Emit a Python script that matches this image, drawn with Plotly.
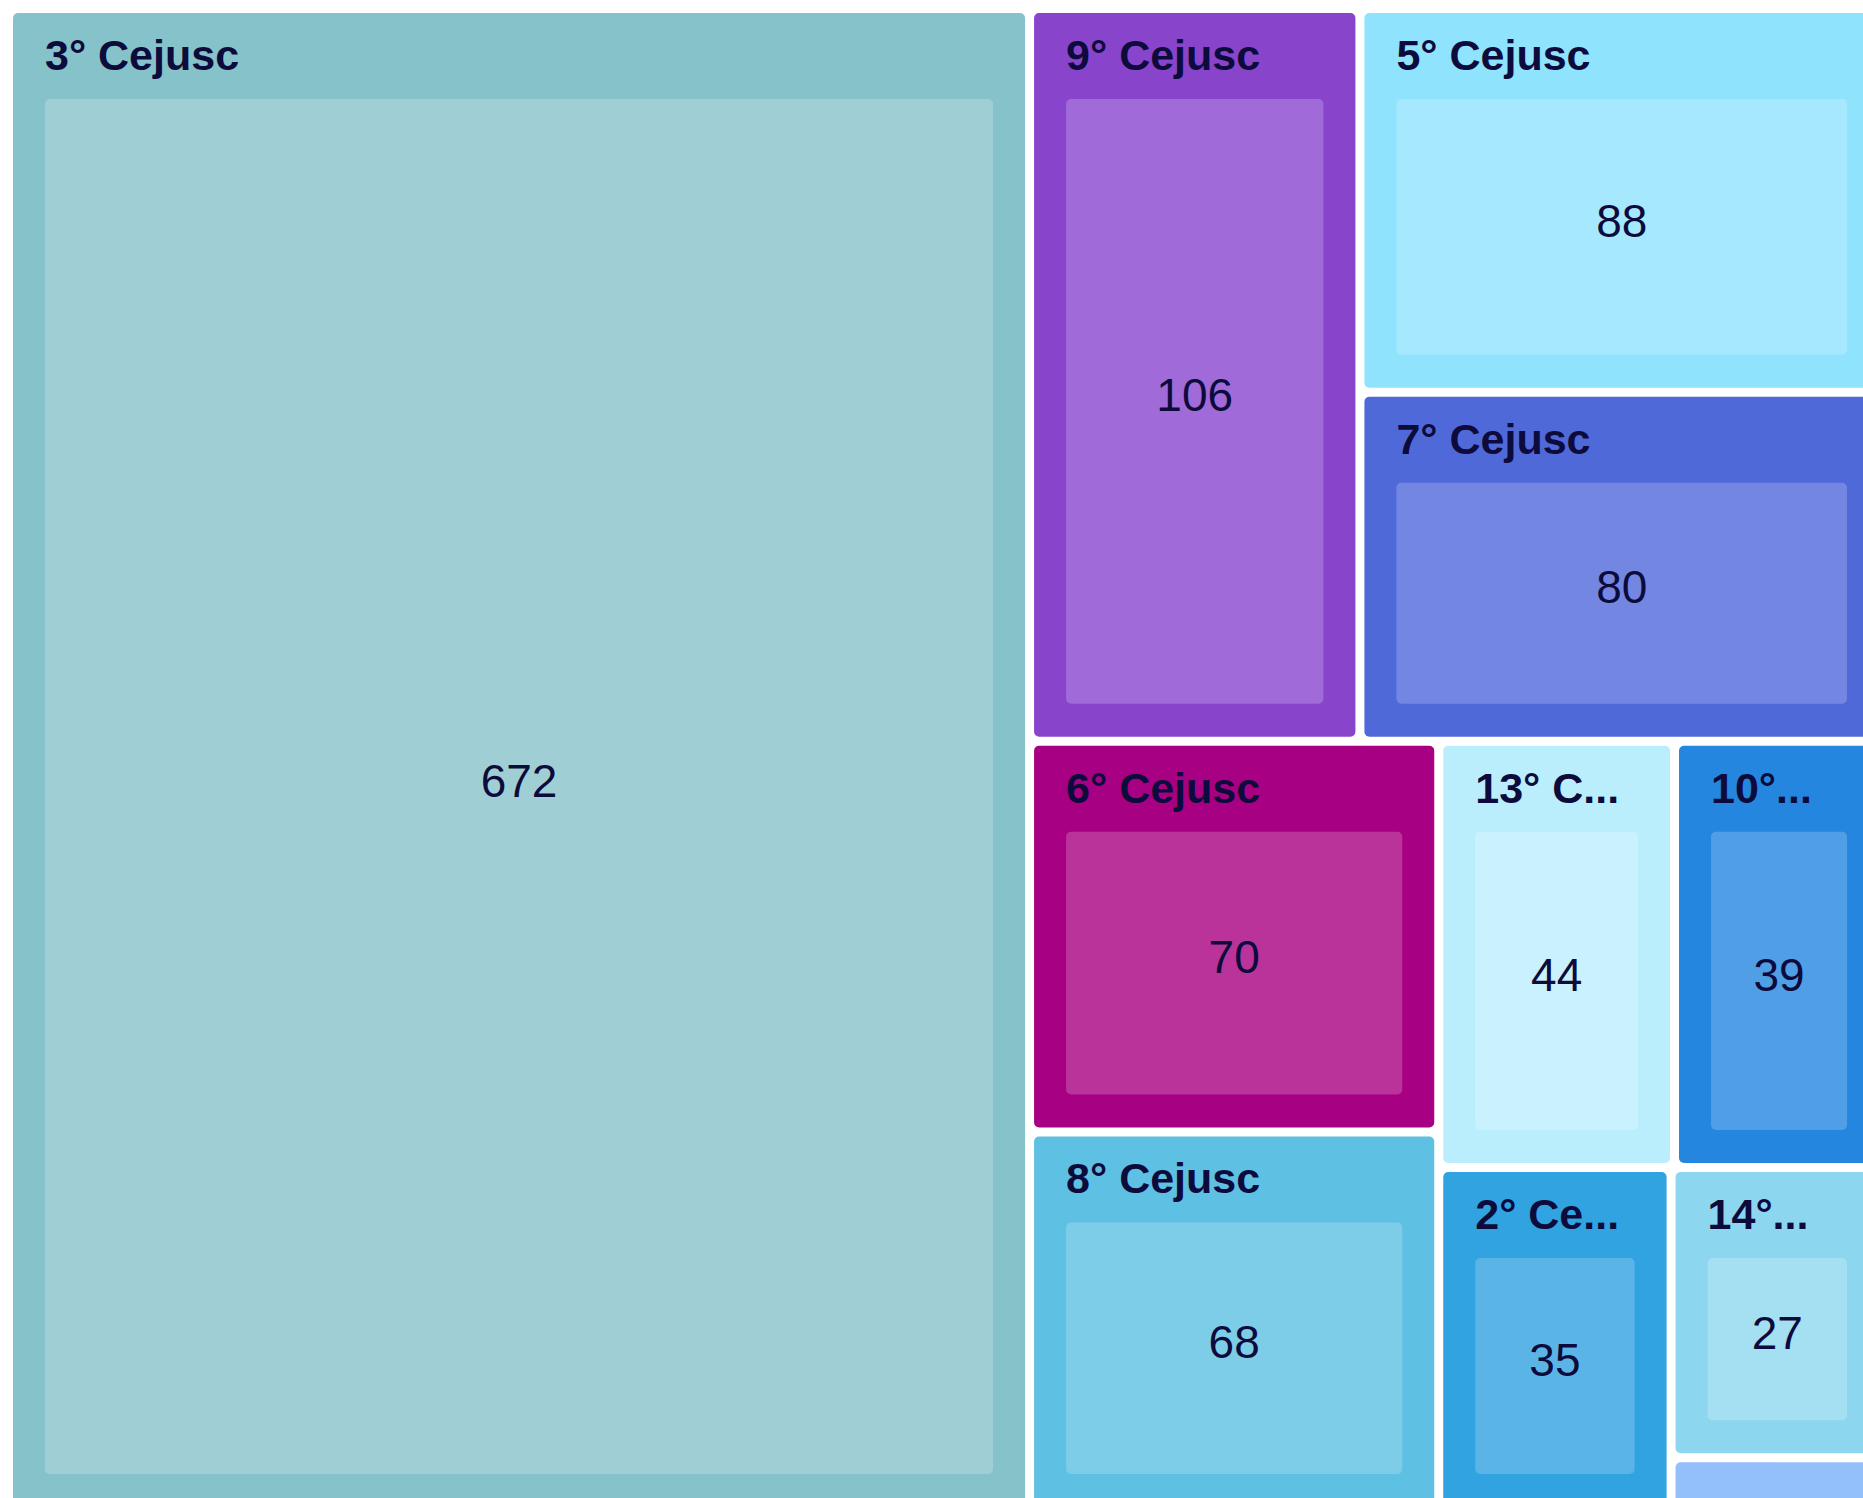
import plotly.graph_objects as go

# ---- data ----
cejusc = ["3° Cejusc", "9° Cejusc", "5° Cejusc", "7° Cejusc", "6° Cejusc",
          "8° Cejusc", "13° Cejusc", "10° Cejusc", "2° Cejusc", "14° Cejusc",
          "1° Cejusc"]
# header text as displayed (long names are cut with an ellipsis)
cabecalhos = ["3° Cejusc", "9° Cejusc", "5° Cejusc", "7° Cejusc", "6° Cejusc",
              "8° Cejusc", "13° C...", "10°...", "2° Ce...", "14°...",
              "\u00a0"]
valores = [672, 106, 88, 80, 70, 68, 44, 39, 35, 27, 5]
cores_grupo = ["#86C2C9", "#8944CC", "#8FE3FC", "#5069D9", "#A70082",
               "#5EC0E3", "#BBEEFD", "#2486DE", "#31A3E0", "#8CD7EF",
               "#93C0FA"]
cores_valor = ["#9FCFD4", "#A06AD8", "#A6E8FD", "#7387E2", "#B9339B",
               "#7ECDE8", "#C9F2FE", "#509EE5", "#5AB5E6", "#A4DFF2",
               "#A9CDFB"]

n = len(cejusc)
ids = cejusc + [c + "/valor" for c in cejusc]
labels = cabecalhos + [str(v) for v in valores]
parents = [""] * n + cejusc
values = valores + valores

TXT = "#0C0B3C"
CLEAR = "rgba(0,0,0,0)"
FONT = "Liberation Sans, Arial, sans-serif"

W, HT = 1930, 1613            # size of one treemap viewport
OFF_NUM, OFF_BOX, OFF_HEAD = 0, 6, 21   # vertical offsets (px) of the layers
HF = HT + OFF_HEAD
PAD = dict(t=86, l=32, r=32, b=33)


def ydom(off):
    return [1 - (off + HT) / HF, 1 - off / HF]


common = dict(
    ids=ids, labels=labels, parents=parents, values=values,
    branchvalues="total", sort=True,
    tiling=dict(packing="binary", pad=9),
    pathbar=dict(visible=False),
    hoverinfo="skip",
)

# coloured boxes
t_box = go.Treemap(
    **common,
    domain=dict(x=[0, 1], y=ydom(OFF_BOX)),
    textinfo="none",
    textfont=dict(family=FONT, size=46, color=CLEAR),
    marker=dict(colors=cores_grupo + cores_valor, depthfade=False,
                line=dict(width=0), cornerradius=5, pad=PAD),
)

# centred numbers
t_num = go.Treemap(
    **common,
    domain=dict(x=[0, 1], y=ydom(OFF_NUM)),
    textinfo="label",
    textposition="middle center",
    textfont=dict(family=FONT, size=46, color=[CLEAR] * n + [TXT] * n),
    marker=dict(colors=[CLEAR] * (2 * n), depthfade=False,
                line=dict(width=0), cornerradius=5, pad=PAD),
)

# bold headers, top-left
t_head = go.Treemap(
    **common,
    domain=dict(x=[0, 1], y=ydom(OFF_HEAD)),
    textinfo="none",
    textposition="top left",
    textfont=dict(family=FONT, size=43, weight="bold",
                  color=[TXT] * n + [CLEAR] * n),
    marker=dict(colors=[CLEAR] * (2 * n), depthfade=False,
                line=dict(width=0), cornerradius=5, pad=PAD),
)

fig = go.Figure([t_box, t_num, t_head])
fig.update_layout(
    width=W, height=HF,
    margin=dict(l=0, r=0, t=0, b=0),
    paper_bgcolor="white",
    showlegend=False,
)

# keep the hidden root's outer padding outside the visible page
post = ("var gd=document.getElementById('{plot_id}');"
        "document.body.style.margin='0';document.body.style.overflow='hidden';"
        "gd.style.position='relative';gd.style.left='-19px';gd.style.top='-79px';")
fig.write_html("out.html", post_script=post)
